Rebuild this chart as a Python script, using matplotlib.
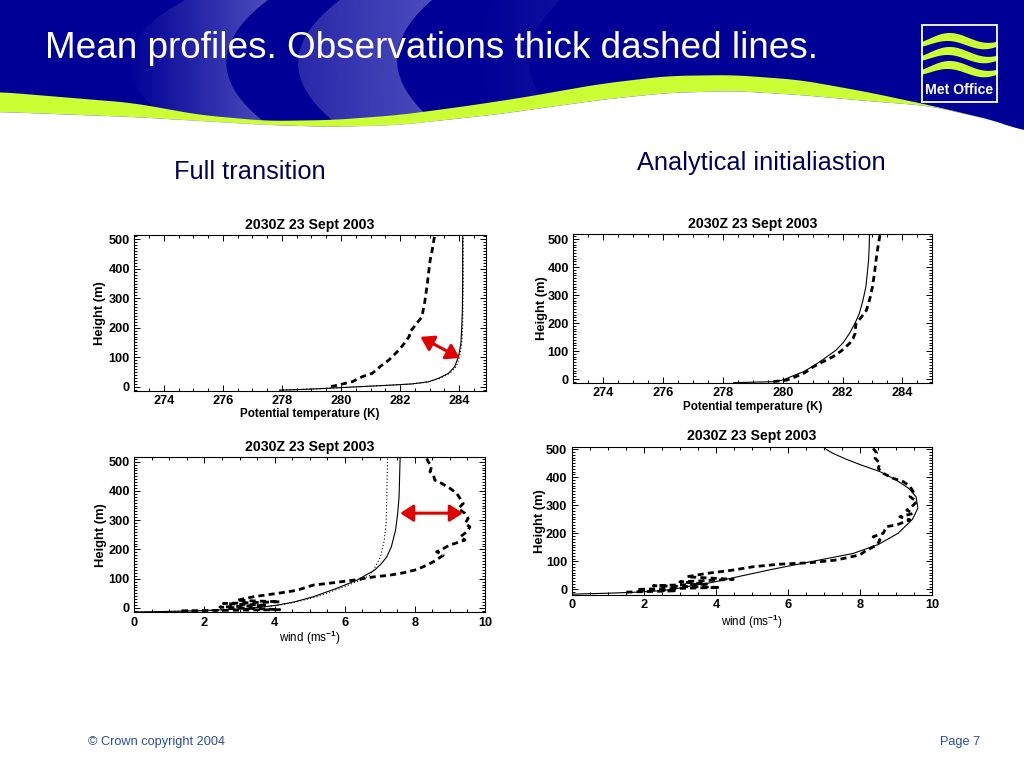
import numpy as np
import matplotlib.pyplot as plt
from matplotlib.patches import Polygon, Rectangle
from matplotlib.ticker import MultipleLocator

FONT = ['Liberation Sans', 'DejaVu Sans']
plt.rcParams['font.family'] = FONT
plt.rcParams['font.weight'] = 'bold'
plt.rcParams['mathtext.fontset'] = 'custom'
plt.rcParams['mathtext.rm'] = 'Liberation Sans'

# ---- data ----
plot_title = '2030Z 23 Sept 2003'

# full transition, potential temperature
ft_th_obs_z = [0, 6, 17, 34, 45, 70, 90, 124, 150, 172, 181, 200, 237, 290, 339, 390, 430, 470, 514]
ft_th_obs = [279.66, 279.94, 280.39, 280.73, 281.06, 281.35, 281.62, 281.96, 282.17, 282.32,
             282.30, 282.45, 282.74, 282.84, 282.91, 282.97, 283.02, 283.10, 283.17]
ft_th_mod_z = [-12, -10, -7, -3, 1, 5, 9, 16, 28, 45, 68, 102, 147, 204, 260, 350, 514]
ft_th_mod = [277.92, 278.6, 279.3, 280.1, 280.9, 281.7, 282.4, 282.95, 283.3, 283.64, 283.85,
             283.98, 284.06, 284.09, 284.11, 284.12, 284.12]
ft_th_alt = [277.92, 278.6, 279.3, 280.1, 280.9, 281.7, 282.4, 282.98, 283.35, 283.68, 283.9,
             284.02, 284.09, 284.12, 284.13, 284.14, 284.14]

# analytical initialisation, potential temperature
an_th_obs_z = [-9, -4, 8, 20, 32, 44, 62, 80, 100, 127, 145, 163, 180, 199, 220, 246, 290, 330, 380, 425, 470, 514]
an_th_obs = [279.69, 280.13, 280.42, 280.69, 280.88, 281.02, 281.35, 281.68, 281.95, 282.23, 282.35,
             282.42, 282.43, 282.45, 282.62, 282.80, 282.92, 283.00, 283.07, 283.12, 283.18, 283.25]
an_th_mod_z = [-13, -11, -9.5, -5, 2, 14, 26, 44, 62, 83, 104, 130, 163, 200, 234, 280, 330, 380, 425, 470, 514]
an_th_mod = [278.36, 279.0, 279.69, 279.95, 280.13, 280.4, 280.69, 280.98, 281.24, 281.52, 281.79,
             282.02, 282.23, 282.42, 282.56, 282.68, 282.78, 282.83, 282.87, 282.89, 282.90]

# full transition, wind
ft_u_obs_z = [511, 500, 483, 466, 454, 437, 426, 409, 392, 374, 357, 340, 323, 306, 289, 277, 260, 243,
              232, 215, 203, 192, 180, 169, 158, 146, 131, 120, 112, 106, 95, 86, 78, 60, 51, 38, 26,
              21, 15, 9, 3, -6, -10]
ft_u_obs = [8.34, 8.38, 8.48, 8.43, 8.53, 8.57, 8.76, 9.0, 9.19, 9.29, 9.38, 9.24, 9.43, 9.52, 9.43,
            9.57, 9.48, 9.29, 9.43, 9.0, 8.81, 8.62, 8.81, 8.67, 8.53, 8.34, 8.05, 7.67, 7.29, 6.82,
            6.25, 5.67, 5.1, 4.63, 4.15, 3.39, 2.92, 4.15, 2.54, 3.77, 2.44, 4.15, 1.3]
ft_u_mod_z = [-14, -12, -9, -5, 0, 5, 10, 20, 38, 66, 95, 129, 152, 175, 209, 266, 323, 380, 515]
ft_u_mod = [0.0, 1.0, 2.0, 2.8, 3.4, 3.8, 4.1, 4.55, 5.1, 5.75, 6.35, 6.85, 7.05, 7.2, 7.33, 7.45,
            7.51, 7.55, 7.58]
ft_u_alt_z = [-14, -12, -9, -5, 0, 5, 10, 20, 38, 66, 95, 110, 129, 175, 232, 289, 380, 515]
ft_u_alt = [0.0, 1.0, 2.0, 2.8, 3.4, 3.8, 4.15, 4.6, 5.2, 5.85, 6.45, 6.7, 6.82, 7.02, 7.13, 7.18,
            7.2, 7.22]

# analytical initialisation, wind
an_u_obs_z = [503, 486, 468, 450, 432, 414, 396, 384, 367, 349, 331, 313, 295, 283, 271, 259, 248, 230,
              224, 200, 188, 176, 158, 140, 123, 105, 95, 90, 81, 69, 57, 45, 36, 27, 19, 13, 7, 0, -5, -10]
an_u_obs = [8.36, 8.46, 8.41, 8.55, 8.5, 8.64, 8.92, 9.2, 9.38, 9.47, 9.38, 9.57, 9.43, 9.29, 9.47,
            9.1, 9.38, 9.01, 8.73, 8.64, 8.36, 8.55, 8.46, 8.18, 7.99, 7.35, 6.61, 5.78, 5.04, 4.48,
            3.74, 3.19, 4.48, 3.0, 3.74, 2.26, 4.11, 1.8, 2.91, 1.43]
an_u_mod_z = [-17, -14, -10, -5, 0, 10, 25, 45, 70, 93, 128, 160, 200, 250, 290, 330, 360, 390, 420,
              445, 465, 485, 500, 505]
an_u_mod = [0.0, 0.9, 1.8, 2.4, 2.8, 3.2, 3.9, 4.6, 5.5, 6.4, 7.8, 8.5, 9.05, 9.45, 9.6, 9.55, 9.35,
            9.0, 8.55, 8.0, 7.6, 7.25, 7.05, 7.0]

# red arrows: (x, z) of both tips
ft_th_arrow = [(282.69, 169), (284.02, 97)]
ft_u_arrow = [(7.58, 324), (9.37, 324)]

BLUE = '#000096'
LIGHT = np.array([80, 80, 190]) / 255
LIME = '#ccff33'

fig = plt.figure(figsize=(10.24, 7.68), dpi=100)

# ---- slide background drawn in pixel units ----
bg = fig.add_axes([0, 0, 1, 1], zorder=-5)


def smooth_edge(xs, ys, win=41):
    xx = np.linspace(0, 1024, 1025)
    yy = np.interp(xx, xs, ys)
    pad = win // 2
    yy = np.convolve(np.pad(yy, pad, mode='edge'), np.ones(win) / win, mode='valid')
    return xx, yy


xx, blue_edge = smooth_edge([0, 133, 200, 267, 333, 400, 467, 520, 600, 667, 733, 800, 867, 933, 1000, 1024],
                            [92, 103, 115, 121, 120, 115, 106, 98, 84, 76, 75, 80, 92, 106, 122, 132])
_, green_edge = smooth_edge([0, 133, 267, 333, 400, 500, 600, 667, 733, 800, 867, 930, 1000, 1024],
                            [112, 117, 125, 127, 125, 114, 100, 93, 91, 95, 101, 106, 122, 132])
green_edge = np.maximum(green_edge, blue_edge)

bg.add_patch(Rectangle((0, 0), 1024, 150, color=BLUE, zorder=0))


def swoosh(left_x, right_x, a0, a1):
    yy = np.array([0, 50, 130])
    ys = np.linspace(0, 130, 60)
    xl = np.polyval(np.polyfit(yy, left_x, 2), ys)
    xr = np.polyval(np.polyfit(yy, right_x, 2), ys)
    poly = Polygon(np.column_stack([np.r_[xl, xr[::-1]], np.r_[ys, ys[::-1]]]),
                   closed=True, fc='none', ec='none', zorder=1)
    bg.add_patch(poly)
    x0, x1 = min(xl.min(), xr.min()), max(xl.max(), xr.max())
    img = np.zeros((2, 200, 4))
    img[..., :3] = LIGHT
    img[..., 3] = np.linspace(a0, a1, 200)
    im = bg.imshow(img, extent=(x0, x1, 130, 0), aspect='auto', zorder=1, interpolation='bilinear')
    im.set_clip_path(poly)


swoosh([185, 130, 190], [268, 228, 275], 0.0, 1.0)
swoosh([340, 300, 345], [432, 398, 445], 0.5, 1.0)
swoosh([495, 475, 520], [560, 530, 570], 0.0, 0.2)

bg.add_patch(Polygon(np.column_stack([np.r_[xx, xx[::-1]], np.r_[blue_edge, green_edge[::-1]]]),
                     closed=True, fc=LIME, ec='none', zorder=2))
bg.add_patch(Polygon(np.column_stack([np.r_[xx, 1024, 0], np.r_[green_edge, 160, 160]]),
                     closed=True, fc='white', ec='none', zorder=3))

# Met Office logo
bg.add_patch(Rectangle((921.7, 25), 75.6, 76.7, fill=False, ec='white', lw=1.3, zorder=5))
wx = np.linspace(922, 997, 200)
t = (wx - 922) / 75
for y0 in [41, 55, 69]:
    yc = y0 - 4.5 * np.sin(2 * np.pi * (t - 0.1))
    half = 2.4 + 1.8 * np.sin(np.pi * t)
    band = bg.fill_between(wx, yc - half, yc + half, color=LIME, lw=0, zorder=4)
    band.set_clip_path(Rectangle((921.7, 25), 75.6, 76.7, transform=bg.transData))
bg.text(959.5, 90.5, 'Met Office', color='white', fontsize=10.2, weight='bold',
        ha='center', va='center', zorder=6)

bg.text(45, 58, 'Mean profiles. Observations thick dashed lines.', color='white', fontsize=26.6,
        weight='normal', ha='left', va='baseline', zorder=6)
bg.text(250, 172, 'Full transition', color='#00005a', fontsize=18.3, weight='normal',
        ha='center', va='center')
bg.text(761, 163, 'Analytical initialiastion', color='#00005a', fontsize=18.3, weight='normal',
        ha='center', va='center')
bg.text(88, 742, '\u00a9 Crown copyright 2004', color='#2a4d9b', fontsize=9.2, weight='normal',
        ha='left', va='center')
bg.text(980, 742, 'Page 7', color='#2a4d9b', fontsize=9.2, weight='normal',
        ha='right', va='center')
bg.set_xlim(0, 1024)
bg.set_ylim(768, 0)
bg.axis('off')


# ---- the four profile plots ----
def profile_axes(px, xlim, ylim, xlabel, label_weight, xlab_px, ylab_px):
    left, top, right, bottom = px
    ax = fig.add_axes([left / 1024, 1 - bottom / 768, (right - left) / 1024, (bottom - top) / 768])
    ax.set_xlim(*xlim)
    ax.set_ylim(*ylim)
    ax.xaxis.set_major_locator(MultipleLocator(2))
    ax.xaxis.set_minor_locator(MultipleLocator(0.5))
    ax.yaxis.set_major_locator(MultipleLocator(100))
    ax.yaxis.set_minor_locator(MultipleLocator(10))
    ax.tick_params(which='both', direction='in', top=True, right=True, width=0.7,
                   labelsize=9.2, pad=3.2)
    ax.tick_params(which='major', length=4.5)
    ax.tick_params(which='minor', length=2.2)
    for s in ax.spines.values():
        s.set_linewidth(0.8)
    ax.annotate(plot_title, xy=(0.5, 1), xycoords='axes fraction', xytext=(0, 7.5),
                textcoords='offset points', ha='center', va='center', fontsize=10.2)
    ax.annotate(xlabel, xy=(0.5, 0), xycoords='axes fraction', xytext=(0, -xlab_px * 0.72),
                textcoords='offset points', ha='center', va='center', fontsize=8.4,
                weight=label_weight)
    ax.annotate('Height (m)', xy=(0, 0.5), xycoords='axes fraction', xytext=(-ylab_px * 0.72, 0),
                textcoords='offset points', ha='center', va='center', fontsize=9.4, rotation=90)
    return ax


def red_arrow(ax, tips):
    ax.annotate('', xy=tips[1], xytext=tips[0],
                arrowprops=dict(arrowstyle='<|-|>,head_length=0.65,head_width=0.42', color='#e00000',
                                lw=2.2, shrinkA=0, shrinkB=0, mutation_scale=12))


obs_style = dict(color='k', lw=2.0, dashes=(2.2, 1.5))
mod_style = dict(color='k', lw=0.8)
alt_style = dict(color='k', lw=0.8, ls=(0, (1, 2)))
temp_label = 'Potential temperature (K)'
wind_label = 'wind (ms$^{-1}$)'

ax1 = profile_axes((134.3, 235, 485.7, 391), (273, 284.9), (-15, 515), temp_label, 'bold', 23, 34)
ax1.plot(ft_th_alt, ft_th_mod_z, **alt_style)
ax1.plot(ft_th_mod, ft_th_mod_z, **mod_style)
ax1.plot(ft_th_obs, ft_th_obs_z, **obs_style)
red_arrow(ax1, ft_th_arrow)

ax2 = profile_axes((573.3, 234.3, 932.3, 382.7), (273, 285), (-13, 517), temp_label, 'bold', 24, 31)
ax2.plot(an_th_mod, an_th_mod_z, **mod_style)
ax2.plot(an_th_obs, an_th_obs_z, **obs_style)

ax3 = profile_axes((134.3, 457.3, 485, 612.3), (0, 10), (-15, 515), wind_label, 'normal', 26, 33)
ax3.plot(ft_u_alt, ft_u_alt_z, **alt_style)
ax3.plot(ft_u_mod, ft_u_mod_z, **mod_style)
ax3.plot(ft_u_obs, ft_u_obs_z, **obs_style)
red_arrow(ax3, ft_u_arrow)

ax4 = profile_axes((571.7, 446.7, 932.3, 595), (0, 10), (-20, 509), wind_label, 'normal', 27, 32)
ax4.plot(an_u_mod, an_u_mod_z, **mod_style)
ax4.plot(an_u_obs, an_u_obs_z, **obs_style)

fig.savefig('out.png', dpi=100)
